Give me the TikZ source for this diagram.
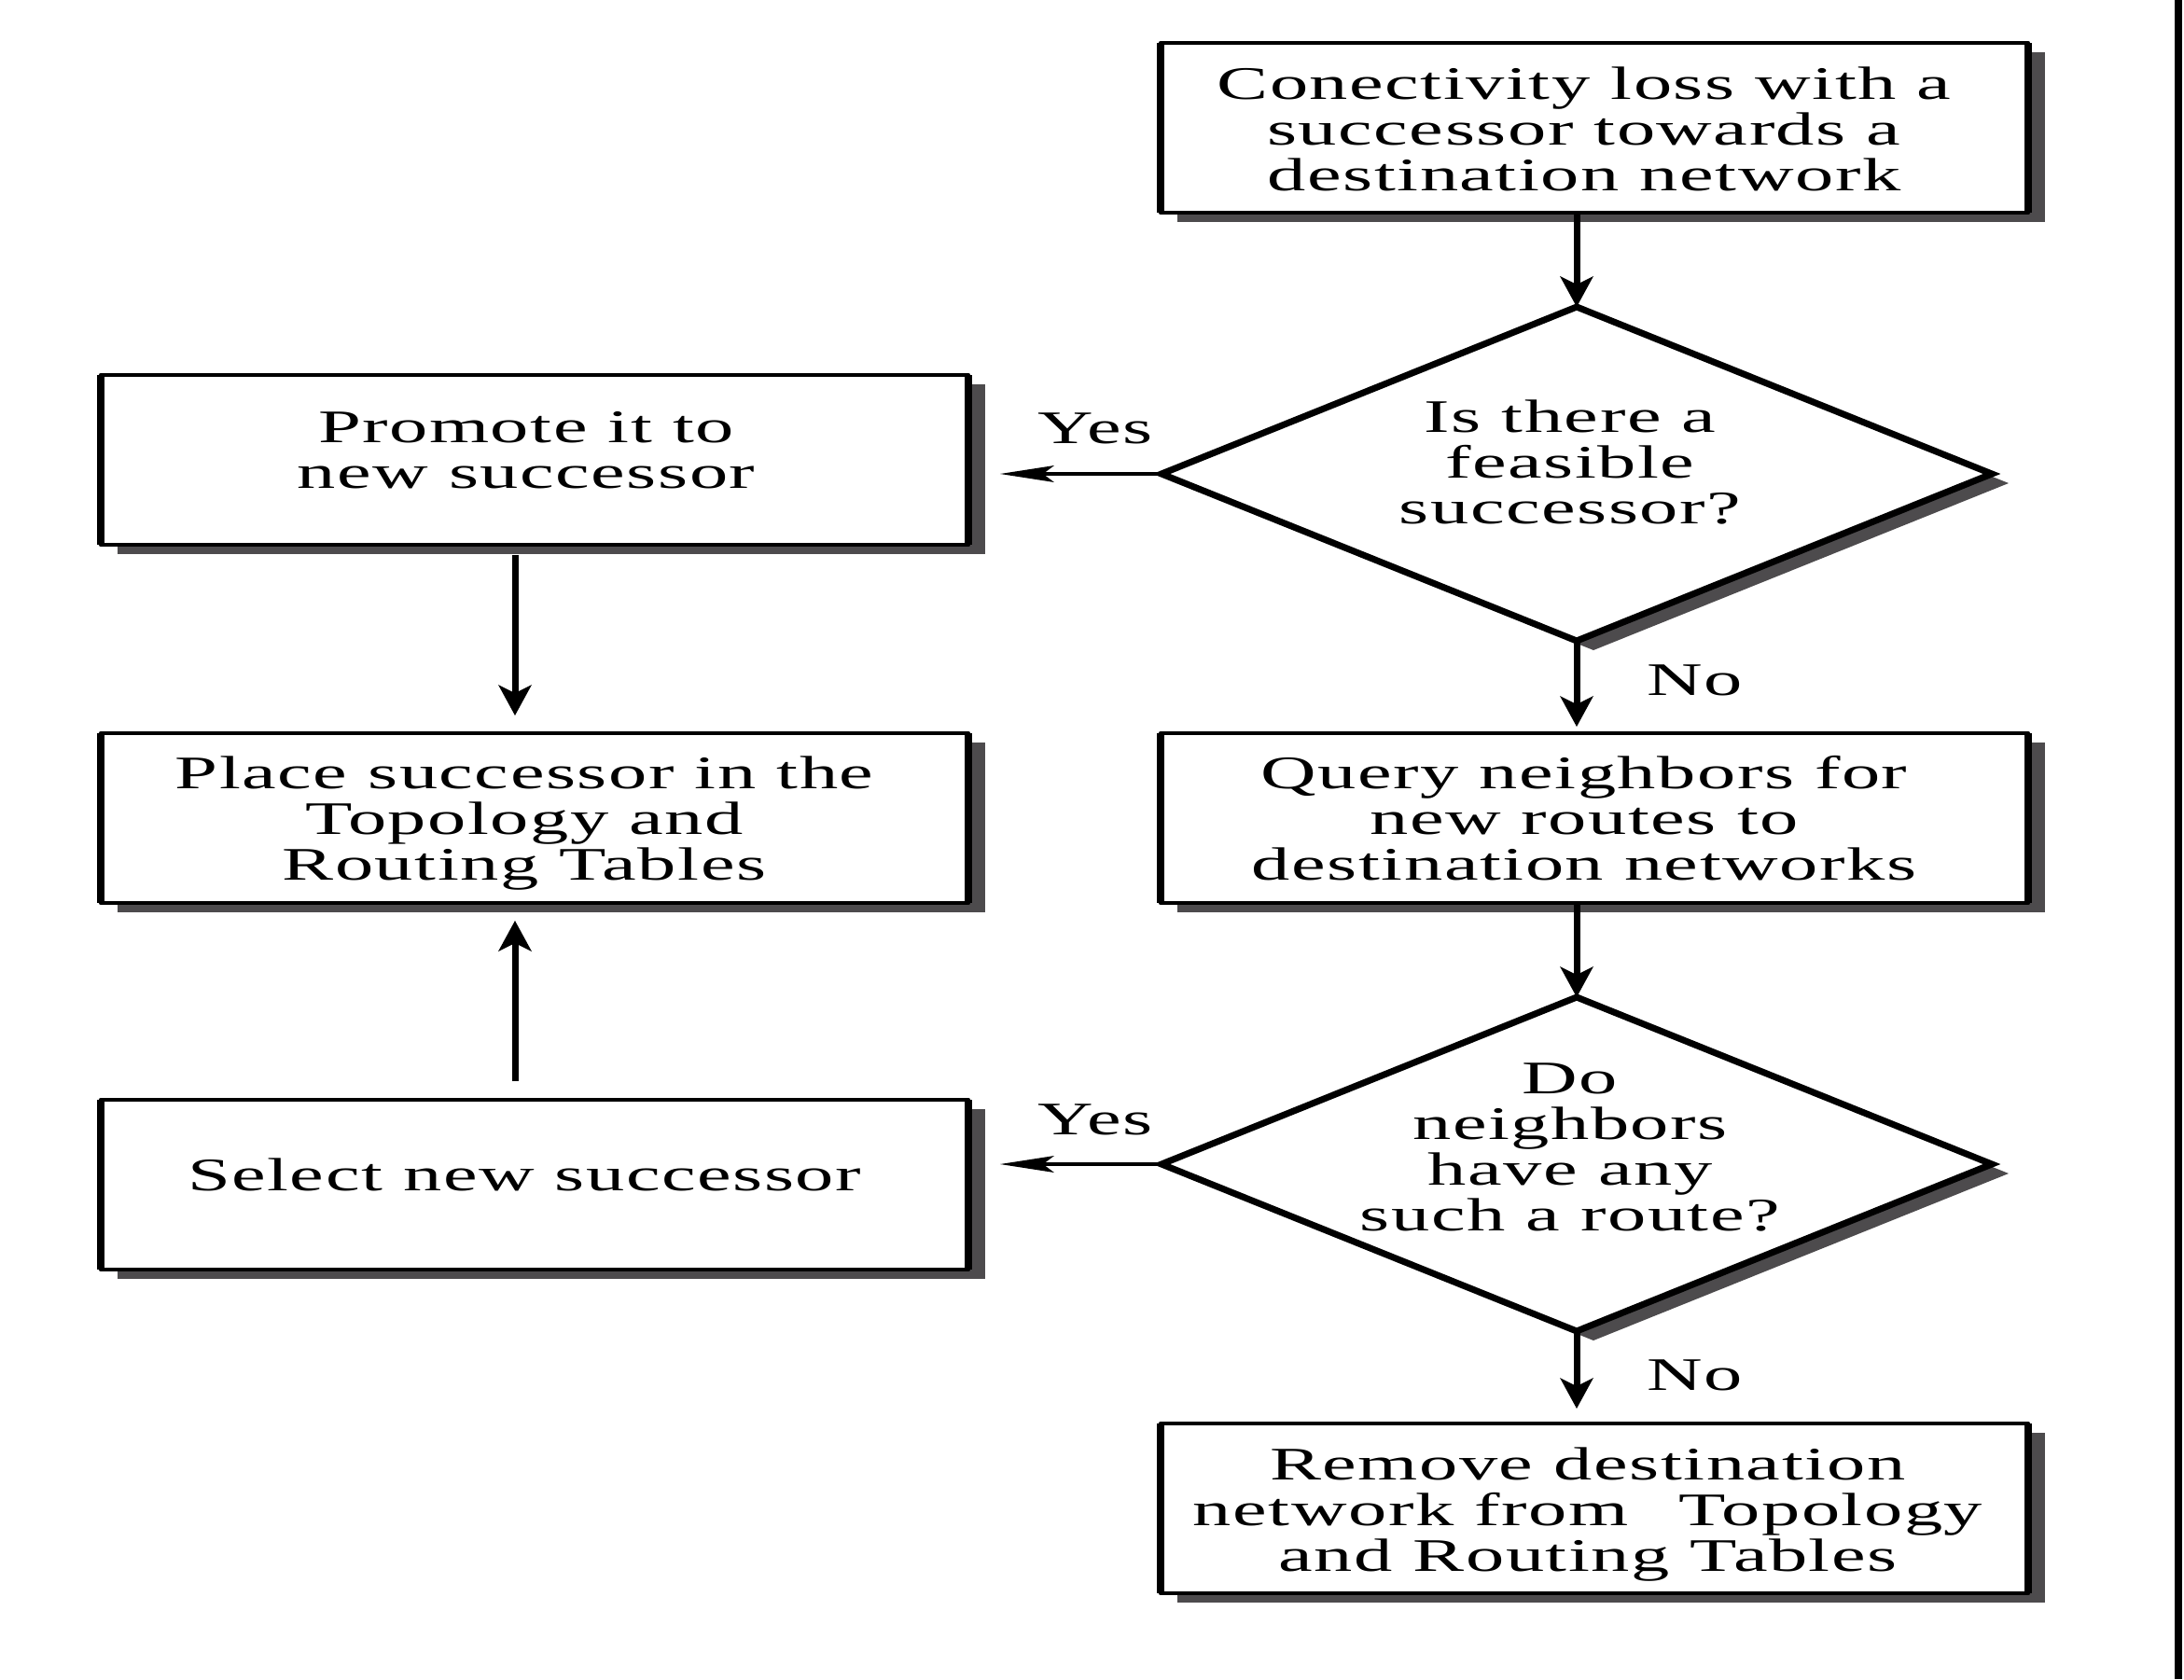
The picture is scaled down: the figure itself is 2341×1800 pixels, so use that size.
\documentclass[tikz,border=0pt]{standalone}
\usepackage{fontspec}
\newfontfamily\dfont[FakeStretch=1.65,LetterSpace=3]{Liberation Serif}
\usetikzlibrary{arrows.meta,shapes.geometric,shadows}
\definecolor{shadowgray}{RGB}{77,75,77}
\newcommand\mytop{\rule{0pt}{36pt}}
\newcommand\mybot{\rule[-12pt]{0pt}{12pt}}
\begin{document}
\begin{tikzpicture}[x=1pt,y=-1pt,
  shad/.style={drop shadow={shadow xshift=18pt,shadow yshift=-10pt,fill=shadowgray,opacity=1}},
  box/.style={draw,fill=white,line width=4.8pt,line join=round,minimum width=930pt,minimum height=182pt,inner sep=0pt,outer sep=0pt,shad},
  dec/.style={shape=diamond,draw,fill=white,line width=7pt,minimum width=890pt,minimum height=358pt,inner sep=0pt,outer sep=0pt,shad},
  txt/.style={font=\dfont\fontsize{50pt}{49pt}\selectfont,align=center,inner sep=0pt},
  lbl/.style={font=\dfont\fontsize{50pt}{49pt}\selectfont,inner sep=0pt,anchor=base},
  varrow/.style={line width=7pt,-{Stealth[length=33pt,width=36pt,inset=9pt,line width=0pt]}},
  harrow/.style={line width=3.5pt,-{Stealth[length=58pt,width=18pt,inset=12pt,line width=0pt]}},
  vside/.style={line width=7.5pt}
]
\fill[white] (0,0) rectangle (2341,1800);
\useasboundingbox (0,0) rectangle (2341,1800);

% boxes
\node[box] (top) at (1709,137) {};
\node[box] (promote) at (573,493) {};
\node[box] (place) at (573,877) {};
\node[box] (query) at (1709,877) {};
\node[box] (select) at (573,1270) {};
\node[box] (remove) at (1709,1617) {};
\foreach \n in {top,promote,place,query,select,remove}{
  \draw[vside] (\n.north west) -- (\n.south west);
  \draw[vside] (\n.north east) -- (\n.south east);
}
% decisions
\node[dec] (d1) at (1690,508) {};
\node[dec] (d2) at (1690,1248) {};

% texts
\node[txt] (topT) at (1698,143) {\mytop Conectivity loss with a\\successor towards a\\destination network\mybot};
\node[txt] (promoteT) at (564,487) {\mytop Promote it to\\new successor\mybot};
\node[txt] (placeT) at (562,882) {\mytop Place successor in the\\Topology and\\Routing Tables\mybot};
\node[txt] (queryT) at (1698,882) {\mytop Query neighbors for\\new routes to\\destination networks\mybot};
\node[txt] (selectT) at (562,1264) {\mytop Select new successor\mybot};
\node[txt] (removeT) at (1702,1623) {\mytop Remove destination\\network from\ \ \hspace{10pt}Topology\\and Routing Tables\mybot};
\node[txt] (d1T) at (1683,500) {\mytop Is there a\\feasible\\successor?\mybot};
\node[txt] (d2T) at (1683,1234) {\mytop Do\\neighbors\\have any\\such a route?\mybot};

% labels
\node[lbl] (yes1) at (1174,475) {Yes};
\node[lbl] (yes2) at (1174,1216) {Yes};
\node[lbl] (no1) at (1817,745) {No};
\node[lbl] (no2) at (1817,1490) {No};

% connectors
\draw[varrow] (top.south -| d1.north) -- (d1.north);
\draw[harrow,shorten >=34pt] (d1.west) -- (d1.west -| promote.east);
\draw[varrow,shorten >=7pt] (d1.south) -- (d1.south |- query.north);
\draw[varrow] (d2.north |- query.south) -- (d2.north);
\draw[harrow,shorten >=34pt] (d2.west) -- (d2.west -| select.east);
\draw[varrow,shorten >=16pt] (d2.south) -- (d2.south |- remove.north);
\draw[varrow,shorten <=11pt,shorten >=19pt] ([xshift=-21pt]promote.south) -- ([xshift=-21pt]place.north);
\draw[varrow,shorten <=20pt,shorten >=19pt] ([xshift=-21pt]select.north) -- ([xshift=-21pt]place.south);

% right edge rule
\draw[line width=8pt] (2335,0) -- (2335,1800);
\end{tikzpicture}
\end{document}
